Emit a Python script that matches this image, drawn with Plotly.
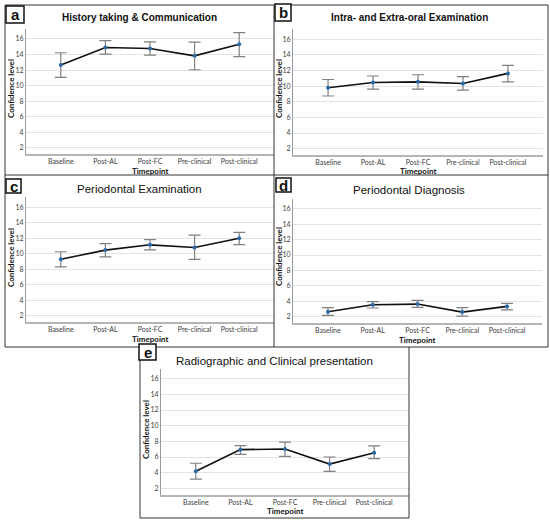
import plotly.graph_objects as go

W, H = 550, 525

# --- Data (mean with lower/upper CI) ---
timepoints = ["Baseline", "Post-AL", "Post-FC", "Pre-clinical", "Post-clinical"]

titles = [
    "History taking & Communication",
    "Intra- and Extra-oral Examination",
    "Periodontal Examination",
    "Periodontal Diagnosis",
    "Radiographic and Clinical presentation",
]
letters = ["a", "b", "c", "d", "e"]

mean_a = [12.64, 14.90, 14.77, 13.83, 15.33]
low_a = [11.06, 14.04, 13.91, 12.04, 13.74]
up_a = [14.23, 15.80, 15.63, 15.59, 16.82]

mean_b = [9.80, 10.46, 10.55, 10.34, 11.63]
low_b = [8.74, 9.62, 9.62, 9.50, 10.55]
up_b = [10.85, 11.30, 11.46, 11.22, 12.67]

mean_c = [9.28, 10.47, 11.15, 10.80, 12.00]
low_c = [8.30, 9.60, 10.50, 9.28, 11.18]
up_c = [10.26, 11.30, 11.83, 12.40, 12.77]

mean_d = [2.65, 3.56, 3.64, 2.60, 3.34]
low_d = [2.17, 3.13, 3.21, 2.09, 2.90]
up_d = [3.17, 3.96, 4.12, 3.17, 3.73]

mean_e = [4.17, 6.94, 7.02, 5.10, 6.55]
low_e = [3.17, 6.34, 6.08, 4.17, 5.80]
up_e = [5.20, 7.45, 7.91, 6.00, 7.41]

y_ticks = [2, 4, 6, 8, 10, 12, 14, 16]

series = [
    (mean_a, low_a, up_a),
    (mean_b, low_b, up_b),
    (mean_c, low_c, up_c),
    (mean_d, low_d, up_d),
    (mean_e, low_e, up_e),
]

# --- Layout geometry in pixels (x0, x1, ytop, ybottom) ---
plot_px = [
    (26, 274, 28.9, 153.9),
    (293, 543, 29.1, 154.9),
    (26, 274, 197.2, 321.9),
    (293, 542, 198.7, 322.9),
    (161, 409, 368.5, 494.6),
]
title_px = [(140, 17), (409, 18), (139, 189), (409, 190), (274, 361)]
ylab_px = [(11, 89), (279, 89), (11, 258), (279, 257), (146, 430)]
xlab_y = [171, 171, 339, 340, 511]
letter_box = [(6, 6, 24, 23), (275, 4, 291, 21), (6, 179, 21, 193),
              (276, 178, 291, 192), (139, 344, 156, 360)]


def px(x):
    return x / W


def py(y):
    return 1 - y / H


def note(x, y, text, **kw):
    return dict(x=px(x), y=py(y), xref="paper", yref="paper",
                xanchor="center", yanchor="middle", showarrow=False,
                text=text, **kw)


fig = go.Figure()
layout = {}
annotations = []
shapes = []

for i, (m, lo, up) in enumerate(series):
    n = "" if i == 0 else str(i + 1)
    x0, x1, yt, yb = plot_px[i]
    fig.add_trace(go.Scatter(
        x=timepoints, y=m, mode="lines+markers",
        xaxis="x" + n, yaxis="y" + n,
        line=dict(color="#111111", width=1.6),
        marker=dict(color="#2b6aa8", size=4),
        error_y=dict(type="data", symmetric=False,
                     array=[u - v for u, v in zip(up, m)],
                     arrayminus=[v - l for v, l in zip(m, lo)],
                     color="#808080", thickness=1.2, width=6),
        showlegend=False,
    ))
    layout["xaxis" + n] = dict(
        domain=[px(x0), px(x1)], anchor="y" + n,
        type="category", range=[-0.78, 4.78],
        showgrid=False, zeroline=False,
        showline=True, linecolor="#b5b5b5", linewidth=1.5,
        ticks="", ticklabelstandoff=0,
        tickfont=dict(family="Lato", size=7, color="#404040"),
    )
    layout["yaxis" + n] = dict(
        domain=[py(yb), py(yt)], anchor="x" + n,
        range=[1.2, 17.3], tickvals=y_ticks,
        showgrid=True, gridcolor="#e3e3e3", gridwidth=1,
        zeroline=False, showline=True, linecolor="#9a9a9a", linewidth=1,
        ticks="", ticklabelstandoff=0,
        tickfont=dict(family="Lato", size=7, color="#404040"),
    )
    tx, ty = title_px[i]
    bold = i < 2
    annotations.append(note(
        tx, ty, ("<b>%s</b>" % titles[i]) if bold else titles[i],
        font=dict(family="Liberation Sans", size=10 if bold else 11.5,
                  color="#111111")))
    lx, ly = ylab_px[i]
    annotations.append(note(
        lx, ly, "<b>Confidence level</b>", textangle=-90,
        font=dict(family="Lato", size=8, color="#111111")))
    annotations.append(note(
        (x0 + x1) / 2, xlab_y[i], "<b>Timepoint</b>",
        font=dict(family="Lato", size=8, color="#111111")))
    bx0, by0, bx1, by1 = letter_box[i]
    shapes.append(dict(type="rect", xref="paper", yref="paper",
                       x0=px(bx0), x1=px(bx1), y0=py(by1), y1=py(by0),
                       fillcolor="white", line=dict(color="#111111", width=1.5)))
    annotations.append(note(
        (bx0 + bx1) / 2, (by0 + by1) / 2, "<b>%s</b>" % letters[i],
        font=dict(family="Liberation Sans", size=15, color="#111111")))

# panel frames
frame = dict(color="#333333", width=1)
for (xa, ya, xb, yb_) in [
    (5, 5, 548, 5), (5, 5, 5, 347), (548, 5, 548, 347),
    (274, 5, 274, 347), (5, 175, 548, 175), (5, 347, 548, 347),
    (140, 347, 140, 518), (409, 347, 409, 518), (140, 518, 409, 518),
]:
    shapes.insert(0, dict(type="line", xref="paper", yref="paper",
                          x0=px(xa), x1=px(xb), y0=py(ya), y1=py(yb_),
                          line=frame))

fig.update_layout(
    width=W, height=H,
    margin=dict(l=0, r=0, t=0, b=0),
    paper_bgcolor="white", plot_bgcolor="white",
    annotations=annotations, shapes=shapes,
    **layout,
)

fig.write_html("out.html", config={"displayModeBar": False},
               post_script="document.body.style.margin='0';")
